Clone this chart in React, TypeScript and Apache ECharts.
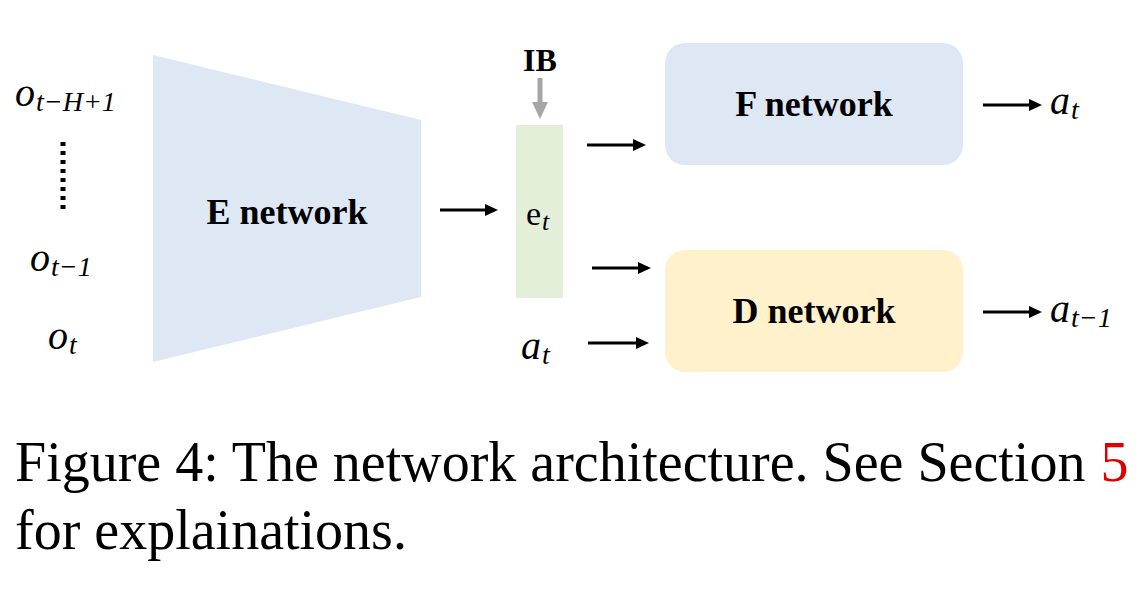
import React, { useEffect, useRef } from 'react';
import * as echarts from 'echarts';

const boxes = [
  { name: 'F network', x: 665, y: 43, w: 298, h: 122, fill: '#dee8f4' },
  { name: 'D network', x: 665, y: 250, w: 298, h: 122, fill: '#fff1cc' },
];
// [x1, y1, x2, y2]
const arrows = [
  [440, 210, 498, 210],
  [587, 145, 646, 145],
  [592, 268, 651, 268],
  [588, 343, 649, 343],
  [983, 105, 1042, 105],
  [983, 312, 1042, 312],
];
// [base, subscript, x, y]
const mathLabels: [string, string, number, number][] = [
  ['o', 't−H+1', 15, 92],
  ['o', 't−1', 30, 257],
  ['o', 't', 48, 335],
  ['a', 't', 521, 345],
  ['a', 't', 1050, 100],
  ['a', 't−1', 1050, 308],
];
const captionLine1 = 'Figure 4: The network architecture. See Section ';
const captionRef = '5';
const captionLine2 = 'for explainations.';

const serif = '"Liberation Serif", "DejaVu Serif", serif';

export default function App() {
  const ref = useRef<HTMLDivElement>(null);
  useEffect(() => {
    if (!ref.current) return;
    const chart = echarts.init(ref.current, null, { renderer: 'svg' });
    const els: any[] = [];
    els.push({
      type: 'polygon',
      shape: { points: [[153, 55], [421, 120], [421, 297], [153, 362]] },
      style: { fill: '#dee8f4' },
    });
    els.push({
      type: 'text', x: 287, y: 212,
      style: { text: 'E network', font: `bold 36px ${serif}`, fill: '#000', align: 'center', verticalAlign: 'middle' },
    });
    els.push({
      type: 'line', shape: { x1: 63, y1: 142, x2: 63, y2: 214 },
      style: { stroke: '#000', lineWidth: 5, lineDash: [4, 5] },
    });
    els.push({ type: 'rect', shape: { x: 516, y: 125, width: 47, height: 173 }, style: { fill: '#e3efd9' } });
    els.push({
      type: 'text', x: 526, y: 213,
      style: {
        text: 'e{s|t}', font: `34px ${serif}`, fill: '#000', verticalAlign: 'middle',
        rich: { s: { font: `italic 26px ${serif}`, padding: [16, 0, 0, 1] } },
      },
    });
    els.push({
      type: 'text', x: 540, y: 60,
      style: { text: 'IB', font: `bold 32px ${serif}`, fill: '#000', align: 'center', verticalAlign: 'middle' },
    });
    els.push({ type: 'line', shape: { x1: 540, y1: 78, x2: 540, y2: 104 }, style: { stroke: '#a6a6a6', lineWidth: 5 } });
    els.push({ type: 'polygon', shape: { points: [[532, 102], [548, 102], [540, 119]] }, style: { fill: '#a6a6a6' } });
    boxes.forEach((b) => {
      els.push({ type: 'rect', shape: { x: b.x, y: b.y, width: b.w, height: b.h, r: 20 }, style: { fill: b.fill } });
      els.push({
        type: 'text', x: b.x + b.w / 2, y: b.y + b.h / 2,
        style: { text: b.name, font: `bold 36px ${serif}`, fill: '#000', align: 'center', verticalAlign: 'middle' },
      });
    });
    arrows.forEach(([x1, y1, x2, y2]) => {
      els.push({ type: 'line', shape: { x1, y1, x2: x2 - 10, y2 }, style: { stroke: '#000', lineWidth: 3 } });
      els.push({ type: 'polygon', shape: { points: [[x2 - 13, y2 - 6], [x2, y2], [x2 - 13, y2 + 6]] }, style: { fill: '#000' } });
    });
    mathLabels.forEach(([b, s, x, y]) => {
      els.push({
        type: 'text', x, y,
        style: {
          text: `{b|${b}}{s|${s}}`, verticalAlign: 'middle', fill: '#000',
          rich: {
            b: { font: `italic 40px ${serif}` },
            s: { font: `italic 28px ${serif}`, padding: [18, 0, 0, 1] },
          },
        },
      });
    });
    els.push({
      type: 'text', x: 15, y: 462,
      style: {
        text: `{a|${captionLine1}}{r|${captionRef}}`, verticalAlign: 'middle',
        rich: { a: { font: `56px ${serif}`, fill: '#000' }, r: { font: `56px ${serif}`, fill: '#e00000' } },
      },
    });
    els.push({
      type: 'text', x: 15, y: 530,
      style: { text: captionLine2, font: `56px ${serif}`, fill: '#000', verticalAlign: 'middle' },
    });
    chart.setOption({ animation: false, backgroundColor: '#fff', graphic: { elements: els } });
    return () => chart.dispose();
  }, []);
  return <div ref={ref} style={{ position: 'absolute', left: 0, top: 0, width: 1140, height: 608 }} />;
}
